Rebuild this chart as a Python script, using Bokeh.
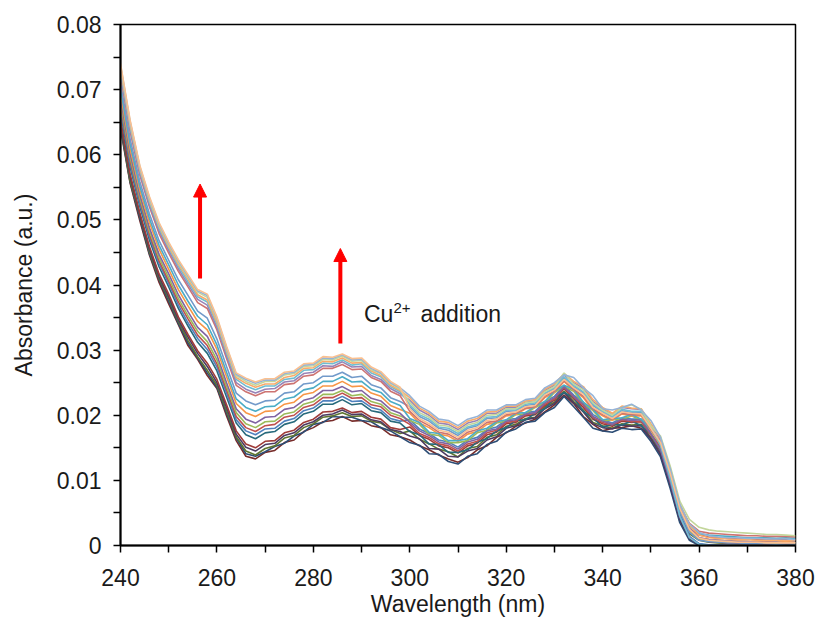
from bokeh.plotting import figure
from bokeh.models import Range1d, FixedTicker, Arrow, NormalHead, Label
from bokeh.embed import file_html
from bokeh.resources import INLINE

# ---------------- data (absorbance in units of 1e-4 a.u.) ----------------
wavelength = list(range(240, 382, 2))

s01 = [640,556,499,446,404,371,339,307,286,261,241,199,161,137,133,
       143,146,158,162,175,181,190,192,198,191,192,184,181,170,167,
       162,153,147,139,133,128,135,147,153,166,173,183,188,194,205,216,231,218,198,186,176,180,181,184,180,164,
       139,92,38,10,2,
       0,0,0,0,0,0,0,0,0,0]
s02 = [643,558,503,448,408,375,341,311,288,265,243,203,165,141,137,
       144,152,157,168,174,186,189,198,197,197,192,190,181,176,167,
       158,154,141,140,129,125,137,141,155,160,174,179,189,191,204,212,229,213,197,180,176,174,180,178,179,160,
       136,88,35,8,0,
       0,0,0,0,0,0,0,0,0,0]
s03 = [647,560,507,451,410,379,344,315,290,269,246,207,167,145,139,
       149,153,165,169,181,187,197,199,204,198,199,191,188,178,172,
       176,163,156,148,144,136,149,152,166,170,183,186,195,197,213,220,237,221,208,189,184,180,187,185,186,166,
       145,101,48,18,8,
       5,4,3,2,2,2,1,2,2,1]
s04 = [650,566,508,455,413,382,347,320,295,275,250,212,171,151,145,
       155,157,169,173,185,190,200,202,208,201,202,193,190,178,175,
       168,164,149,148,137,136,145,149,162,167,180,184,193,196,210,218,235,219,205,187,181,179,185,183,184,164,
       141,94,41,11,2,
       0,0,0,0,0,0,0,0,0,0]
s05 = [654,570,511,459,417,386,351,324,299,280,255,216,176,156,150,
       160,161,173,177,189,194,205,206,211,204,206,197,194,181,178,
       182,169,163,153,150,142,153,157,170,174,187,189,199,201,215,223,241,225,212,194,187,183,191,189,190,171,
       149,103,52,22,10,
       6,5,4,3,3,3,2,3,3,3]
s06 = [666,581,521,469,428,397,364,337,312,295,268,228,188,170,164,
       173,175,186,190,202,206,217,217,224,216,218,207,204,191,188,
       175,170,156,155,143,143,147,159,164,176,181,192,193,203,210,226,235,227,206,196,182,186,185,191,184,171,
       147,100,49,20,11,
       9,8,7,6,6,5,5,5,4,5]
s07 = [671,586,525,474,433,402,369,342,318,301,274,234,193,176,170,
       179,180,191,195,207,211,222,222,229,221,222,212,208,195,191,
       193,179,172,162,159,151,162,166,178,182,193,195,204,206,221,229,246,231,220,201,193,188,196,194,194,173,
       150,102,46,14,3,
       1,0,0,0,0,0,0,0,0,0]
s08 = [676,591,530,478,437,406,374,348,323,307,279,239,198,181,175,
       184,186,197,200,212,216,227,227,234,226,227,216,213,200,195,
       186,172,166,156,153,145,156,160,173,177,189,191,201,203,217,225,243,227,215,196,189,185,193,190,191,170,
       152,106,55,26,16,
       13,12,11,10,10,9,9,10,9,9]
s09 = [681,596,534,483,442,411,379,353,329,313,285,244,204,187,181,
       190,191,202,205,217,221,232,232,238,230,232,221,217,204,199,
       192,186,171,169,158,158,161,173,177,188,191,201,202,212,219,235,244,237,218,207,191,193,194,199,192,178,
       154,107,54,22,10,
       7,6,5,5,4,4,4,3,4,4]
s10 = [687,602,539,488,447,417,385,359,335,321,292,250,210,194,188,
       197,198,209,212,223,227,238,238,244,236,238,226,222,209,203,
       189,176,169,159,156,148,159,163,176,179,191,193,202,204,219,227,244,229,217,198,191,186,194,192,193,171,
       147,98,44,13,2,
       0,0,0,0,0,0,0,0,0,0]
s11 = [695,609,546,496,455,424,393,368,344,331,301,259,218,204,198,
       206,207,217,220,232,235,245,245,252,244,245,234,229,215,209,
       203,188,181,171,168,160,171,175,186,189,199,201,210,212,227,235,252,238,227,208,199,192,202,199,199,177,
       155,110,56,24,12,
       9,8,7,7,6,6,6,5,6,5]
s12 = [702,616,552,502,461,431,400,375,352,339,308,266,225,212,206,
       213,214,225,228,239,242,252,252,259,251,252,240,235,221,215,
       195,189,174,172,161,161,164,176,180,190,193,203,204,214,221,237,246,240,220,209,193,195,196,201,194,179,
       157,112,60,30,18,
       16,15,14,13,12,12,12,11,12,11]
s13 = [710,624,559,509,468,438,408,384,360,349,317,275,234,222,216,
       222,223,234,236,248,250,260,260,266,258,260,247,242,227,221,
       213,198,191,180,177,169,180,184,195,196,206,207,215,217,233,241,257,244,234,215,205,197,207,204,204,181,
       156,108,52,20,8,
       6,5,4,4,3,3,3,2,3,3]
s14 = [722,636,569,520,479,449,421,397,373,364,331,287,246,236,230,
       236,236,247,249,260,262,272,272,278,270,271,258,252,237,230,
       206,192,184,174,171,163,174,178,189,191,201,203,211,213,229,237,253,240,229,210,201,194,203,201,201,178,
       160,114,62,34,22,
       19,18,17,16,15,15,14,14,14,13]
s15 = [726,639,572,523,483,453,425,401,378,369,335,291,250,240,234,
       240,241,251,253,264,266,276,275,282,274,275,261,255,241,233,
       223,208,200,188,186,178,188,192,203,203,212,212,220,222,238,246,262,250,241,221,210,201,212,210,209,185,
       163,116,58,26,12,
       9,8,7,6,6,5,5,5,4,5]
s16 = [730,643,576,527,487,457,429,405,382,374,340,296,255,245,239,
       245,245,255,257,269,270,280,279,285,277,279,265,259,244,236,
       216,201,194,182,180,172,182,186,197,198,208,208,217,219,234,242,259,246,236,217,206,198,209,206,206,182,
       154,103,45,12,2,
       0,0,0,0,0,0,0,0,0,0]
s17 = [733,646,578,530,490,459,432,409,385,377,343,299,258,249,243,
       248,248,258,261,272,273,283,282,288,280,281,268,261,246,238,
       227,211,203,191,189,181,191,195,205,206,214,214,222,224,240,248,264,252,244,224,212,203,214,211,210,187,
       165,119,64,31,16,
       12,11,10,9,9,8,8,8,7,8]
s18 = [736,649,581,532,492,462,435,412,389,381,347,302,261,252,246,
       252,252,262,264,275,276,286,285,291,283,284,270,264,249,240,
       220,204,197,185,183,175,185,189,200,201,210,210,219,221,236,244,265,248,239,219,208,200,212,216,209,184,
       168,122,68,40,28,
       24,22,21,20,19,18,17,17,16,15]
s19 = [738,651,582,534,494,464,437,414,391,384,349,304,263,255,249,
       254,254,264,266,277,278,288,287,293,285,286,272,265,250,242,
       230,214,206,194,192,184,194,198,208,208,216,216,224,226,242,250,262,258,242,230,210,208,212,217,208,192,
       166,118,63,33,20,
       15,13,12,12,11,11,10,10,10,9]
s20 = [740,653,584,536,496,466,439,416,393,386,351,306,265,257,251,
       256,256,266,268,279,280,290,289,294,287,288,274,267,252,243,
       210,195,187,177,174,166,177,181,192,194,203,205,213,215,231,239,255,242,232,212,203,195,205,203,202,180,
       158,111,57,25,11,
       8,7,6,5,5,5,4,4,4,4]

spectra = [s01, s02, s03, s04, s05, s06, s07, s08, s09, s10,
           s11, s12, s13, s14, s15, s16, s17, s18, s19, s20]
unit = 1e-4

colors = ["#772C2A", "#2C4D75", "#5F7530", "#4D3B62", "#9F3B38",
          "#276A7C", "#4F81BD", "#C0504D", "#9BBB59", "#8064A2",
          "#F79646", "#4BACC6", "#729ACA", "#CD7371", "#9983B5",
          "#6FBDD1", "#F9AB6B", "#C3D69B", "#95B3D7", "#FAC090"]

x_ticks = [240, 260, 280, 300, 320, 340, 360, 380]
x_minor = [250, 270, 290, 310, 330, 350, 370]
y_ticks = [0.0, 0.01, 0.02, 0.03, 0.04, 0.05, 0.06, 0.07, 0.08]
y_tick_labels = ["0", "0.01", "0.02", "0.03", "0.04", "0.05", "0.06", "0.07", "0.08"]
y_minor = [0.005, 0.015, 0.025, 0.035, 0.045, 0.055, 0.065, 0.075]

# annotation positions
arrow_x = [256.5, 285.6]
arrow_y_start = [0.041, 0.031]
arrow_y_end = [0.0555, 0.0456]
label_x, label_y = 290.5, 0.0356

# ---------------- figure ----------------
FONT = "Liberation Sans"
TXT = "#1a1a1a"

p = figure(width=815, height=620, output_backend="svg", toolbar_location=None,
           x_range=Range1d(240, 380), y_range=Range1d(0, 0.08),
           min_border_left=120, min_border_right=20, min_border_top=24, min_border_bottom=75)

p.xgrid.visible = False
p.ygrid.visible = False
p.outline_line_color = "black"
p.outline_line_width = 1.5
p.background_fill_color = "white"
p.border_fill_color = "white"

for s, c in zip(spectra, colors):
    assert len(s) == len(wavelength)
    p.line(wavelength, [v * unit for v in s], line_color=c, line_width=1.6)

p.xaxis.ticker = FixedTicker(ticks=x_ticks, minor_ticks=x_minor)
p.yaxis.ticker = FixedTicker(ticks=y_ticks, minor_ticks=y_minor)
p.yaxis.major_label_overrides = {t: l for t, l in zip(y_ticks, y_tick_labels)}

p.xaxis.axis_label = "Wavelength (nm)"
p.yaxis.axis_label = "Absorbance (a.u.)"

for ax in (p.xaxis[0], p.yaxis[0]):
    ax.axis_line_color = "black"
    ax.axis_line_width = 2
    ax.major_tick_line_color = "black"
    ax.minor_tick_line_color = "black"
    ax.major_tick_line_width = 1.5
    ax.minor_tick_line_width = 1.5
    ax.major_tick_in = 0
    ax.major_tick_out = 7
    ax.minor_tick_in = 0
    ax.minor_tick_out = 7
    ax.major_label_text_font = FONT
    ax.major_label_text_font_size = "23px"
    ax.major_label_text_color = TXT
    ax.axis_label_text_font = FONT
    ax.axis_label_text_font_size = "23px"
    ax.axis_label_text_font_style = "normal"
    ax.axis_label_text_color = TXT

p.yaxis.major_label_standoff = 12
p.yaxis.axis_label_standoff = 17
p.xaxis.major_label_standoff = 16
p.xaxis.axis_label_standoff = 2

for xa, ys, ye in zip(arrow_x, arrow_y_start, arrow_y_end):
    p.add_layout(Arrow(end=NormalHead(size=13, fill_color="#FF0000", line_color="#FF0000", line_width=1),
                       x_start=xa, y_start=ys, x_end=xa, y_end=ye,
                       line_color="#FF0000", line_width=4))

p.add_layout(Label(x=label_x, y=label_y, text="Cu", text_font=FONT, text_font_size="23px",
                   text_color=TXT, text_baseline="alphabetic", text_align="left"))
p.add_layout(Label(x=label_x, y=label_y, x_offset=29.5, y_offset=6, text="2+", text_font=FONT,
                   text_font_size="15px", text_color=TXT, text_baseline="alphabetic", text_align="left"))
p.add_layout(Label(x=label_x, y=label_y, x_offset=56.5, text="addition", text_font=FONT,
                   text_font_size="23px", text_color=TXT, text_baseline="alphabetic", text_align="left"))

open("out.html", "w").write(file_html(p, INLINE))
